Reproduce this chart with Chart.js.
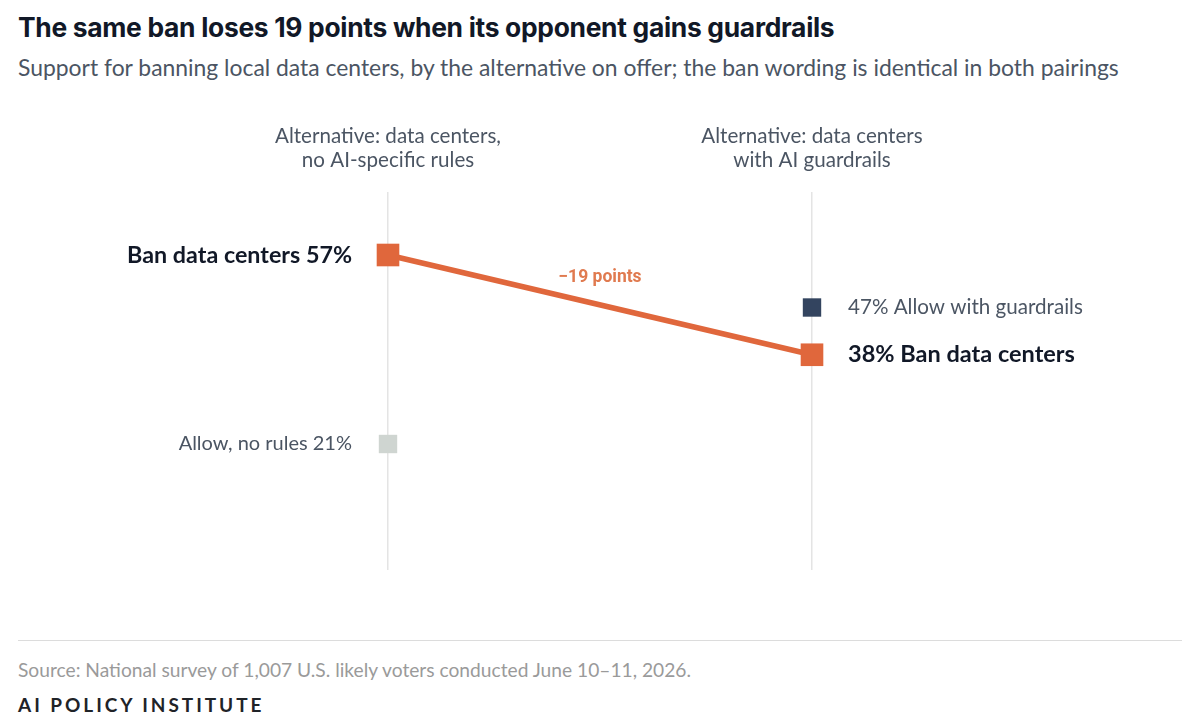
<!DOCTYPE html>
<html>
<head>
<meta charset="utf-8">
<script src="https://cdn.jsdelivr.net/npm/chart.js@4.4.1/dist/chart.umd.min.js"></script>
<style>
  html, body { margin: 0; padding: 0; background: #fff; }
  body { width: 1200px; height: 728px; position: relative; overflow: hidden; font-family: Lato, "Noto Sans", sans-serif; }
  .title { position: absolute; left: 18px; top: 11px; font-family: Inter, Roboto, sans-serif; font-weight: 700; font-size: 26.4px; color: #111827; letter-spacing: -0.3px; }
  .subtitle { position: absolute; left: 18px; top: 53px; font-size: 22.9px; color: #4b5563; }
  .chart-wrap { position: absolute; left: 0; top: 100px; width: 1200px; height: 500px; }
  .rule { position: absolute; left: 18px; top: 640px; width: 1164px; height: 1px; background: #dcdcdc; }
  .source { position: absolute; left: 18px; top: 658px; font-size: 19.2px; color: #9a9a9a; }
  .brand { position: absolute; left: 18px; top: 693px; font-size: 19px; font-weight: 700; color: #1f2328; letter-spacing: 2.95px; }
</style>
</head>
<body>
<div class="title">The same ban loses 19 points when its opponent gains guardrails</div>
<div class="subtitle">Support for banning local data centers, by the alternative on offer; the ban wording is identical in both pairings</div>
<div class="chart-wrap"><canvas id="chart"></canvas></div>
<div class="rule"></div>
<div class="source">Source: National survey of 1,007 U.S. likely voters conducted June 10–11, 2026.</div>
<div class="brand">AI POLICY INSTITUTE</div>

<script>
// two pairings, one column each
const pairings = [
  ['Alternative: data centers,', 'no AI-specific rules'],
  ['Alternative: data centers', 'with AI guardrails']
];
const banValues = [57, 38];
const allowValues = [21, 47];
const banLabels = ['Ban data centers 57%', '38% Ban data centers'];
const allowLabels = ['Allow, no rules 21%', '47% Allow with guardrails'];
const changeLabel = '\u221219 points';

const ORANGE = '#e0673c';
const NAVY = '#33445f';
const GREY = '#cfd5d1';

const labelsPlugin = {
  id: 'slopeLabels',
  afterDatasetsDraw(chart) {
    const { ctx, scales: { x, y } } = chart;
    ctx.save();

    // column headers
    ctx.fillStyle = '#4b5563';
    ctx.font = '20.6px Lato, "Noto Sans", sans-serif';
    ctx.textAlign = 'center';
    ctx.textBaseline = 'middle';
    pairings.forEach((lines, i) => {
      lines.forEach((line, j) => {
        ctx.fillText(line, x.getPixelForValue(i), 36 + j * 24);
      });
    });

    // point labels
    const ban = chart.getDatasetMeta(0).data;
    const allow = chart.getDatasetMeta(1).data;
    ctx.textBaseline = 'middle';

    ctx.textAlign = 'right';
    ctx.font = '700 23.3px Lato, "Noto Sans", sans-serif';
    ctx.fillStyle = '#111827';
    ctx.fillText(banLabels[0], ban[0].x - 36, ban[0].y);
    ctx.font = '20px Lato, "Noto Sans", sans-serif';
    ctx.fillStyle = '#4b5563';
    ctx.fillText(allowLabels[0], allow[0].x - 36, allow[0].y);

    ctx.textAlign = 'left';
    ctx.font = '700 23.5px Lato, "Noto Sans", sans-serif';
    ctx.fillStyle = '#111827';
    ctx.fillText(banLabels[1], ban[1].x + 36, ban[1].y);
    ctx.font = '20.6px Lato, "Noto Sans", sans-serif';
    ctx.fillStyle = '#4b5563';
    ctx.fillText(allowLabels[1], allow[1].x + 36, allow[1].y);

    // change annotation above the middle of the slope
    const mx = (ban[0].x + ban[1].x) / 2;
    const my = (ban[0].y + ban[1].y) / 2;
    ctx.textAlign = 'center';
    ctx.font = '700 17.5px Roboto, "Noto Sans", sans-serif';
    ctx.fillStyle = '#e07a4f';
    ctx.fillText(changeLabel, mx, my - 27);

    ctx.restore();
  }
};

new Chart(document.getElementById('chart'), {
  type: 'line',
  data: {
    datasets: [
      {
        label: 'Ban data centers',
        data: banValues.map((v, i) => ({ x: i, y: v })),
        borderColor: ORANGE,
        borderWidth: 5.5,
        backgroundColor: ORANGE,
        pointStyle: 'rect',
        pointRadius: 16,
        pointHoverRadius: 16,
        pointBorderWidth: 0,
        clip: false
      },
      {
        label: 'Allow',
        data: allowValues.map((v, i) => ({ x: i, y: v })),
        showLine: false,
        pointStyle: 'rect',
        pointRadius: 13,
        pointHoverRadius: 13,
        pointBorderWidth: 0,
        pointBackgroundColor: [GREY, NAVY],
        clip: false
      }
    ]
  },
  options: {
    responsive: true,
    maintainAspectRatio: false,
    animation: false,
    layout: { padding: { left: 388, right: 388, top: 92, bottom: 30 } },
    plugins: {
      legend: { display: false },
      tooltip: { enabled: false }
    },
    scales: {
      x: {
        type: 'linear',
        min: 0,
        max: 1,
        ticks: { display: false, stepSize: 1 },
        grid: { color: '#e4e4e4', lineWidth: 1.5, drawTicks: false },
        border: { display: false }
      },
      y: {
        min: -3,
        max: 69,
        display: false
      }
    }
  },
  plugins: [labelsPlugin]
});
</script>
</body>
</html>
